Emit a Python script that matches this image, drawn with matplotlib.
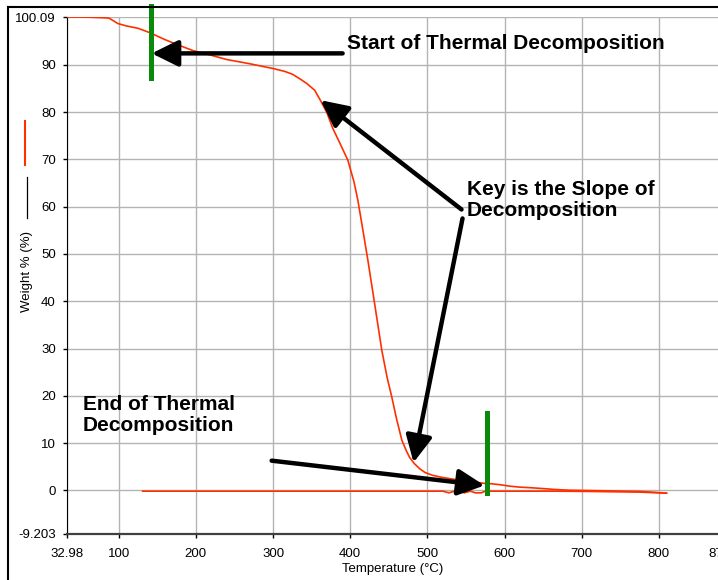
#!/usr/bin/env python3
# -*- coding: utf-8 -*-
"""TGA weight loss curve with decomposition annotations."""
import matplotlib
matplotlib.use('Agg')
import matplotlib.pyplot as plt
from matplotlib.lines import Line2D

# Heating run (deg C, weight %)
temp_heat = [32.98, 60, 85, 88, 99, 110, 125, 140, 160, 180, 196, 220, 240, 270,
             300, 315, 325, 335, 344, 354, 362, 370, 377, 387, 397, 405, 410,
             416, 423, 431, 441, 448, 454, 460, 467, 473, 477, 483, 490, 497,
             507, 518, 529, 545, 560, 574, 583, 595, 607, 620, 635, 650, 665,
             685, 706, 740, 775, 795, 810]
wt_heat = [100.09, 100.05, 99.9, 99.8, 98.7, 98.2, 97.7, 96.8, 95.3, 94.0, 93.0,
           92.0, 91.1, 90.2, 89.2, 88.6, 88.0, 87.0, 86.0, 84.6, 82.3, 79.8,
           76.7, 73.3, 69.8, 65.2, 61.3, 55.5, 48.6, 40.2, 29.6, 23.8, 19.7,
           15.2, 10.6, 8.3, 7.0, 5.7, 4.6, 3.8, 3.2, 2.8, 2.5, 2.1, 1.8, 1.5,
           1.42, 1.2, 0.91, 0.7, 0.57, 0.4, 0.21, 0.05, 0.0, -0.1, -0.2, -0.4,
           -0.57]

# Cooling run back down
temp_cool = [810, 775, 706, 665, 600, 575, 570, 562, 556, 548, 542, 535, 528,
             520, 500, 400, 300, 200, 131]
wt_cool = [-0.57, -0.35, -0.2, -0.15, -0.15, -0.15, -0.5, -0.5, -0.15, -0.5,
           -0.15, -0.15, -0.5, -0.15, -0.15, -0.15, -0.15, -0.15, -0.15]

xticks = [32.98, 100, 200, 300, 400, 500, 600, 700, 800, 878]
xlabels = ['32.98', '100', '200', '300', '400', '500', '600', '700', '800', '878']
yticks = [-9.203, 0, 10, 20, 30, 40, 50, 60, 70, 80, 90, 100.09]
ylabels = ['-9.203', '0', '10', '20', '30', '40', '50', '60', '70', '80', '90', '100.09']

plt.rcParams['font.family'] = ['Liberation Sans', 'DejaVu Sans']

RED = '#ff3000'
GREEN = '#0a8a0a'

fig = plt.figure(figsize=(7.18, 5.8), dpi=100)
ax = fig.add_axes([67 / 718, 1 - 534 / 580, 652 / 718, (534 - 17) / 580])

ax.plot(temp_heat, wt_heat, color=RED, lw=1.2, zorder=3)
ax.plot(temp_cool, wt_cool, color=RED, lw=1.2, zorder=3)

ax.set_xlim(32.98, 878)
ax.set_ylim(-9.203, 100.09)
ax.set_xticks(xticks)
ax.set_xticklabels(xlabels)
ax.set_yticks(yticks)
ax.set_yticklabels(ylabels)
ax.tick_params(direction='out', length=3, width=1, labelsize=9.5, pad=5)
ax.tick_params(axis='x', pad=7)
ax.grid(True, color='#b4b4b4', lw=1)
ax.set_axisbelow(True)

ax.spines['top'].set_visible(False)
ax.spines['right'].set_visible(False)
ax.spines['left'].set_color('black')
ax.spines['bottom'].set_color('#404040')
ax.spines['bottom'].set_linewidth(1.6)

ax.set_xlabel('Temperature (°C)', fontsize=9.5, labelpad=2)

# Green markers for onset / end of decomposition
ax.plot([141.5, 141.5], [87.3, 102.5], color=GREEN, lw=3.6, clip_on=False, zorder=4)
ax.plot([576.7, 576.7], [-0.6, 16.3], color=GREEN, lw=3.6, clip_on=False, zorder=4)

arrow = dict(arrowstyle='-|>,head_length=0.85,head_width=0.42', color='black',
             lw=3.2, mutation_scale=19, shrinkA=0, shrinkB=0)
ax.annotate('', xy=(142.7, 92.4), xytext=(390.2, 92.4), arrowprops=arrow, zorder=5)
ax.annotate('', xy=(361.7, 82.5), xytext=(544.3, 59.4), arrowprops=arrow, zorder=5)
ax.annotate('', xy=(482.1, 5.9), xytext=(545.6, 57.5), arrowprops=arrow, zorder=5)
ax.annotate('', xy=(574.1, 1.06), xytext=(298.2, 6.3), arrowprops=arrow, zorder=5)

bold = dict(fontsize=15, fontweight='bold', va='center', ha='left',
            linespacing=1.1, zorder=6)
ax.text(395.3, 94.5, 'Start of Thermal Decomposition', **bold)
ax.text(550.8, 61.4, 'Key is the Slope of\nDecomposition', **bold)
ax.text(53.4, 16.0, 'End of Thermal\nDecomposition', **bold)

# y-axis legend strokes and label
fig.add_artist(Line2D([25 / 718, 25 / 718], [1 - 121 / 580, 1 - 165 / 580],
                      color=RED, lw=1.5))
fig.add_artist(Line2D([27 / 718, 27 / 718], [1 - 177 / 580, 1 - 218 / 580],
                      color='black', lw=0.9))
fig.text(27 / 718, 1 - 271 / 580, 'Weight % (%)', rotation=90,
         ha='center', va='center', fontsize=9.5)

# outer frame (top and left)
fig.add_artist(Line2D([8 / 718, 1], [1 - 7 / 580, 1 - 7 / 580], color='black', lw=1.5))
fig.add_artist(Line2D([8 / 718, 8 / 718], [0, 1 - 7 / 580], color='black', lw=1.5))

fig.savefig('out.png', dpi=100, facecolor='white')
